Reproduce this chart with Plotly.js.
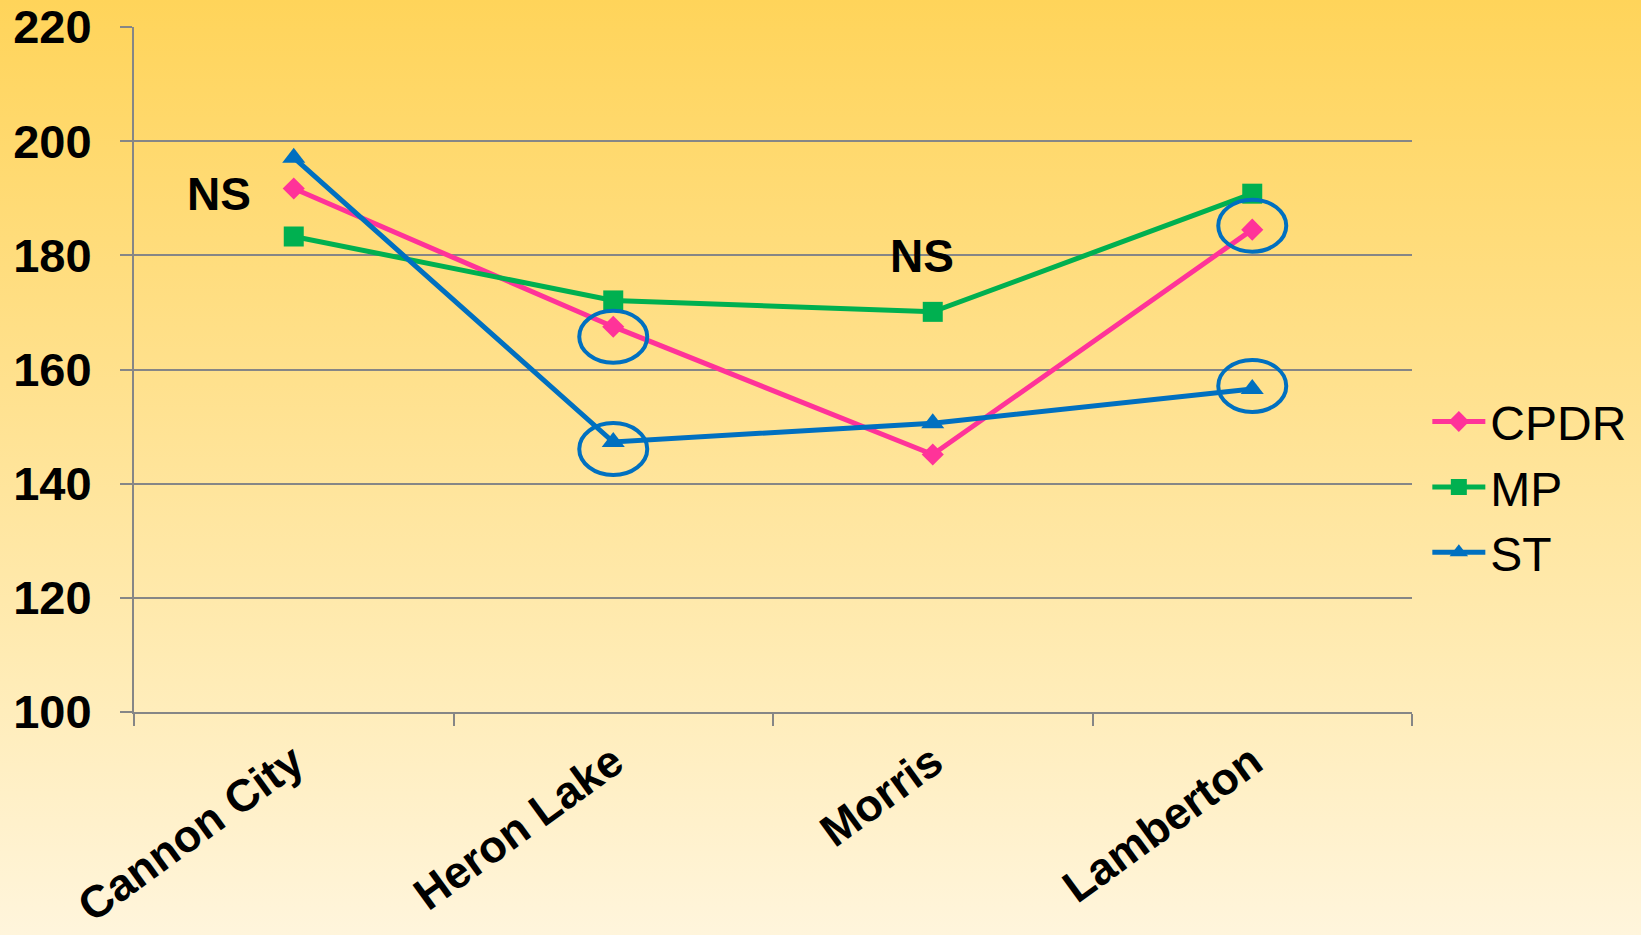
<!DOCTYPE html>
<html>
<head>
<meta charset="utf-8">
<script src="https://cdn.plot.ly/plotly-3.0.1.min.js"></script>
<style>
  html, body { margin: 0; padding: 0; }
  body {
    width: 1641px; height: 935px; overflow: hidden;
    background: linear-gradient(to bottom, #FFD45A 0%, #FFDF86 35%, #FFEBB3 70%, #FFF5DC 100%);
  }
  #chart { width: 1641px; height: 935px; }
</style>
</head>
<body>
<div id="chart"></div>
<script>
// Site names along the x axis
const sites = ['Cannon City', 'Heron Lake', 'Morris', 'Lamberton'];

// Values per treatment at each site
const cpdr = [191.7, 167.5, 145.1, 184.5];
const mp   = [183.3, 172.1, 170.1, 190.8];
const st   = [197.1, 147.3, 150.6, 156.6];

// Y axis ticks
const yTicks = [100, 120, 140, 160, 180, 200, 220];

// Significance notes: site, value level, text
const notes = [
  { site: 'Cannon City', level: 190.8, text: 'NS', shift: -0.235 },
  { site: 'Morris',      level: 179.8, text: 'NS', shift: -0.035 }
];

// Points highlighted with a ring
const rings = [
  { values: cpdr, site: 'Heron Lake', dy: -10 },
  { values: st,   site: 'Heron Lake', dy: -7 },
  { values: cpdr, site: 'Lamberton',  dy: 4 },
  { values: st,   site: 'Lamberton',  dy: 3 }
];

const FONT = 'Liberation Sans, Arial, sans-serif';

const traces = [
  { name: 'CPDR', y: cpdr, color: '#FF3399', symbol: 'diamond', size: 17 },
  { name: 'MP',   y: mp,   color: '#00B050', symbol: 'square', size: 20 },
  { name: 'ST',   y: st,   color: '#0070C0', symbol: 'triangle-up', size: 20 }
].map(t => ({
  type: 'scatter',
  mode: 'lines+markers',
  name: t.name,
  x: sites,
  y: t.y,
  line: { color: t.color, width: 5 },
  marker: { color: t.color, symbol: t.symbol, size: t.size },
  cliponaxis: false
}));

const shapes = rings.map(r => {
  const i = sites.indexOf(r.site);
  return {
    type: 'circle',
    xref: 'x', yref: 'y',
    xsizemode: 'pixel', ysizemode: 'pixel',
    xanchor: i, yanchor: r.values[i],
    x0: -34, x1: 34,
    y0: r.dy - 26, y1: r.dy + 26,
    line: { color: '#0070C0', width: 4 },
    fillcolor: 'rgba(0,0,0,0)'
  };
});

const annotations = notes.map(n => ({
  x: sites.indexOf(n.site) + n.shift,
  y: n.level,
  xref: 'x', yref: 'y',
  text: '<b>' + n.text + '</b>',
  showarrow: false,
  font: { family: FONT, size: 46, color: '#000000' }
}));

const layout = {
  width: 1641, height: 935,
  paper_bgcolor: 'rgba(0,0,0,0)',
  plot_bgcolor: 'rgba(0,0,0,0)',
  margin: { l: 134, r: 229, t: 27, b: 223, autoexpand: false },
  showlegend: true,
  legend: {
    x: 1.012, xanchor: 'left',
    y: 0.328, yanchor: 'middle',
    bgcolor: 'rgba(0,0,0,0)',
    font: { family: FONT, size: 48, color: '#000000' },
    itemwidth: 53,
    tracegroupgap: 0
  },
  xaxis: {
    type: 'category',
    range: [-0.5, 3.5],
    showgrid: false,
    showline: true, linecolor: '#868686', linewidth: 2,
    ticks: 'outside', tickson: 'boundaries', ticklen: 12, tickcolor: '#868686', tickwidth: 2,
    tickangle: -36,
    tickfont: { family: FONT, size: 45, color: '#000000', weight: 'bold' },
    ticklabelstandoff: 4
  },
  yaxis: {
    range: [100, 220],
    tickvals: yTicks,
    showgrid: true, gridcolor: '#868686', gridwidth: 2,
    showline: true, linecolor: '#868686', linewidth: 2,
    zeroline: false,
    ticks: 'outside', ticklen: 12, tickcolor: '#868686', tickwidth: 2,
    tickfont: { family: FONT, size: 47, color: '#000000', weight: 'bold' },
    ticklabelstandoff: 19
  },
  shapes: shapes,
  annotations: annotations
};

Plotly.newPlot('chart', traces, layout, { displayModeBar: false, staticPlot: true });
</script>
</body>
</html>
